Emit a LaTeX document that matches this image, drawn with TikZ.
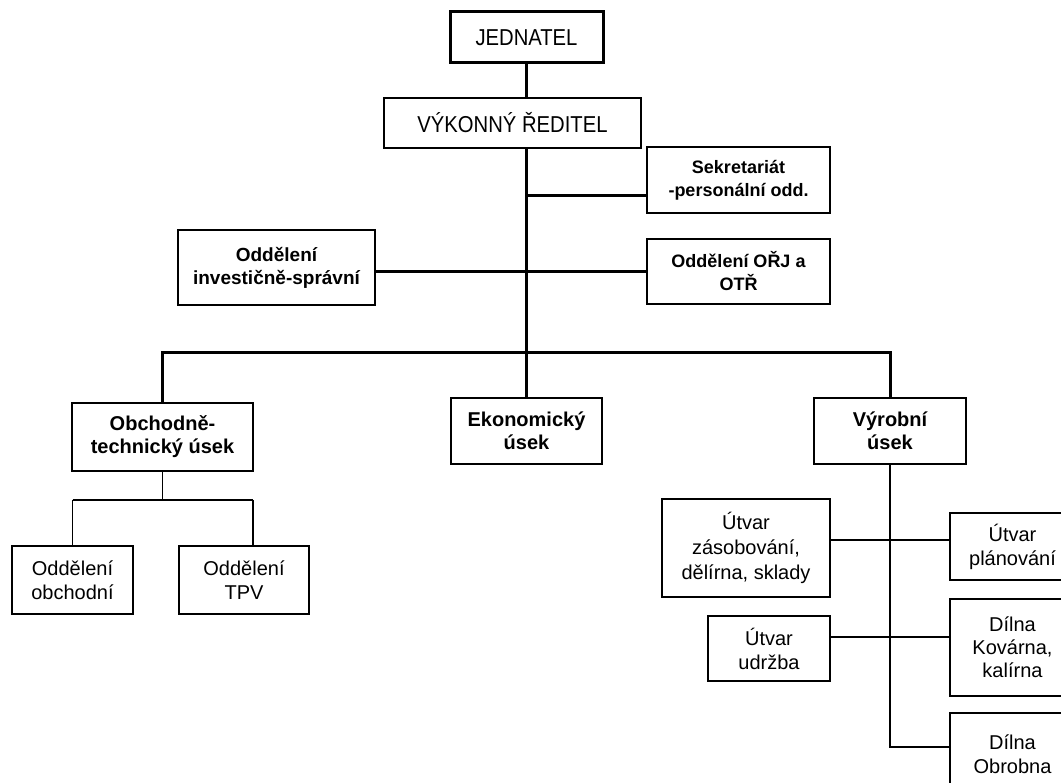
\documentclass[tikz,border=0pt]{standalone}
\usepackage{fontspec}
\setmainfont{Liberation Sans}
\newfontfamily\tallfont[FakeStretch=0.88]{Liberation Sans}
\begin{document}
\begin{tikzpicture}[x=1pt,y=-1pt,
  box/.style={draw, line width=1.4pt, rectangle, inner sep=0pt, align=center},
  topbox/.style={box, font=\tallfont\fontsize{23}{26}\selectfont},
  midbox/.style={box, font=\bfseries\fontsize{20}{23}\selectfont},
  sidebox/.style={box, font=\bfseries\fontsize{18}{23}\selectfont},
  lowbox/.style={box, font=\fontsize{20}{24}\selectfont},
  thickline/.style={line width=3pt},
  thinline/.style={line width=1.4pt}]
\clip (0,0) rectangle (1061,783);
\fill[white] (0,0) rectangle (1061,783);
% boxes
\node[topbox, line width=3pt, minimum width=153pt, minimum height=51pt] (jed) at (526.5,37.5) {JEDNATEL};
\node[topbox, minimum width=257pt, minimum height=50pt] (vr) at (512.5,123) {VÝKONNÝ ŘEDITEL};
\node[sidebox, minimum width=183pt, minimum height=66pt] (sek) at (738.5,180) {Sekretariát\\-personální odd.};
\node[sidebox, minimum width=183pt, minimum height=65pt] (orj) at (738.5,271.5) {Oddělení OŘJ a\\OTŘ};
\node[box, font=\bfseries\fontsize{19}{23}\selectfont, minimum width=197pt, minimum height=75pt] (inv) at (276.5,267.5) {Oddělení\\investičně-správní};
\node[midbox, minimum width=181pt, minimum height=68pt] (obt) at (162.5,437) {Obchodně-\\technický úsek};
\node[midbox, minimum width=151pt, minimum height=66pt] (eko) at (526.5,431) {Ekonomický\\úsek};
\node[midbox, minimum width=152pt, minimum height=66pt] (vyr) at (890,431) {Výrobní\\úsek};
\node[lowbox, minimum width=121pt, minimum height=68pt] (oob) at (72.5,580) {Oddělení\\obchodní};
\node[lowbox, minimum width=130pt, minimum height=68pt] (tpv) at (244,580) {Oddělení\\TPV};
\node[lowbox, font=\fontsize{20}{25}\selectfont, minimum width=168pt, minimum height=98pt] (zas) at (746,548) {Útvar\\zásobování,\\dělírna, sklady};
\node[lowbox, minimum width=122pt, minimum height=65pt] (udr) at (769,648.5) {Útvar\\udržba};
\node[lowbox, minimum width=125pt, minimum height=67pt] (pla) at (1012.5,546.5) {Útvar\\plánování};
\node[lowbox, font=\fontsize{20}{23}\selectfont, minimum width=125pt, minimum height=97pt] (kov) at (1012.5,647.5) {Dílna\\Kovárna,\\kalírna};
\node[lowbox, minimum width=125pt, minimum height=82pt] (obr) at (1012.5,754) {Dílna\\Obrobna};
% junctions
\coordinate (j1) at (526,196);
\coordinate (j2) at (526,272);
\coordinate (bus) at (526,353);
\coordinate (busl) at (162.5,353);
\coordinate (busr) at (890,353);
\coordinate (ot) at (162.5,500);
\coordinate (otl) at (72.5,500);
\coordinate (otr) at (253,500);
\coordinate (vz1) at (890,540);
\coordinate (vz2) at (890,637);
\coordinate (vz3) at (890,747);
% thick connectors
\draw[thickline] (jed.south) -- (jed.south |- vr.north);
\draw[thickline] (vr.south -| bus) -- (bus);
\draw[thickline] (j1) -- (j1 -| sek.west);
\draw[thickline] (inv.east |- j2) -- (j2 -| orj.west);
\draw[thickline, line cap=rect] (busl) -- (busr);
\draw[thickline] (busl) -- (obt.north);
\draw[thickline] (bus) -- (eko.north -| bus);
\draw[thickline] (busr) -- (vyr.north);
% thin connectors
\draw[thinline] (obt.south) -- (ot);
\draw[thinline] (oob.north |- ot) -- (otr);
\draw[thinline] (otl) -- (oob.north);
\draw[thinline] (otr) -- (otr |- tpv.north);
\draw[thinline] (vyr.south) -- (vz3) -- (vz3 -| obr.west);
\draw[thinline] (zas.east |- vz1) -- (vz1 -| pla.west);
\draw[thinline] (udr.east |- vz2) -- (vz2 -| kov.west);
\end{tikzpicture}
\end{document}
